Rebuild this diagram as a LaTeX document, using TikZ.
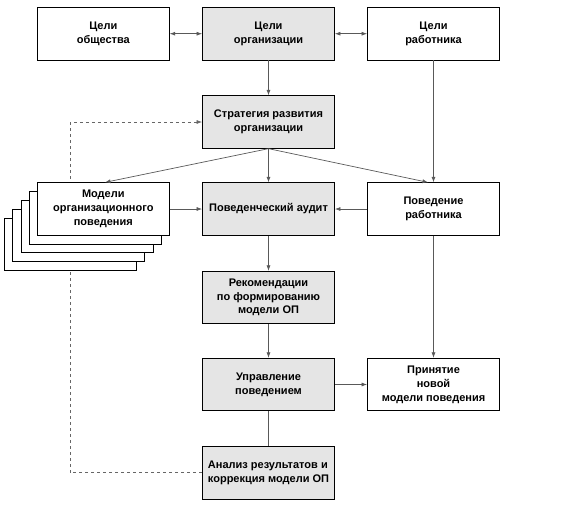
\documentclass[tikz,border=0pt]{standalone}
\usepackage{fontspec}
\setmainfont{Liberation Sans}
\usetikzlibrary{arrows.meta,backgrounds}

\begin{document}
\begin{tikzpicture}[x=1pt, y=-1pt]
    % Define styles
    \tikzset{
        box/.style={draw, line width=0.8pt, minimum width=132pt, minimum height=52.5pt, align=center, inner sep=2pt, font=\bfseries\fontsize{11}{13.8}\selectfont},
        shaded/.style={box, fill=gray!20},
        plain/.style={box, fill=white},
        tip/.style={-{Latex[length=5.5pt, width=4pt]}},
        conn/.style={draw=black!65, line width=0.7pt, tip},
        twoway/.style={conn, {Latex[length=5.5pt, width=4pt]}-{Latex[length=5.5pt, width=4pt]}},
        feedback/.style={conn, dashed, draw=black!60}
    }
    \useasboundingbox (0,0) rectangle (561,515);

    % Goals (top row)
    \node[plain]  (goalsoc) at (103.3,33.7) {Цели\\общества};
    \node[shaded] (goalorg) at (268.5,33.7) {Цели\\организации};
    \node[plain]  (goalemp) at (433.5,33.7) {Цели\\работника};

    % Strategy
    \node[shaded] (strategy) at (268.5,122) {Стратегия развития\\организации};

    % Stack of models behind the front box
    \foreach \k in {4,3,2,1}
        \node[plain] (stack\k) at ({103.3-8.2*\k},{209+8.8*\k}) {};

    % Middle row
    \node[plain]  (models) at (103.3,209) {Модели\\организационного\\поведения};
    \node[shaded] (audit)  at (268.5,209) {Поведенческий аудит};
    \node[plain]  (behav)  at (433.5,209) {Поведение\\работника};

    % Lower part
    \node[shaded] (recom)    at (268.5,297.5) {Рекомендации\\по формированию\\модели ОП};
    \node[shaded] (manage)   at (268.5,384.5) {Управление\\поведением};
    \node[plain]  (accept)   at (433.5,384.5) {Принятие\\новой\\модели поведения};
    \node[shaded, align=left] (analysis) at (268.5,472.7) {Анализ результатов и\\коррекция модели ОП};

    % Connectors
    \draw[twoway] (goalsoc) -- (goalorg);
    \draw[twoway] (goalorg) -- (goalemp);
    \draw[conn] (goalorg) -- (strategy);
    \draw[conn] (strategy.south) -- ([xshift=1.7pt]models.north);
    \draw[conn] (strategy) -- (audit);
    \draw[conn] (strategy.south) -- ([xshift=-5.5pt]behav.north);
    \draw[conn] (goalemp) -- (behav);
    \draw[conn] (models) -- (audit);
    \draw[conn] (behav) -- (audit);
    \draw[conn] (audit) -- (recom);
    \draw[conn] (recom) -- (manage);
    \draw[conn] (behav) -- (accept);
    \draw[conn] (manage) -- (accept);
    \draw[conn, -] (manage) -- (analysis);

    % Feedback loop (dashed, behind the boxes)
    \coordinate (fbline) at (70.3,300);
    \begin{scope}[on background layer]
        \draw[feedback] (analysis.west) -| (fbline) |- (strategy.west);
    \end{scope}

\end{tikzpicture}
\end{document}
